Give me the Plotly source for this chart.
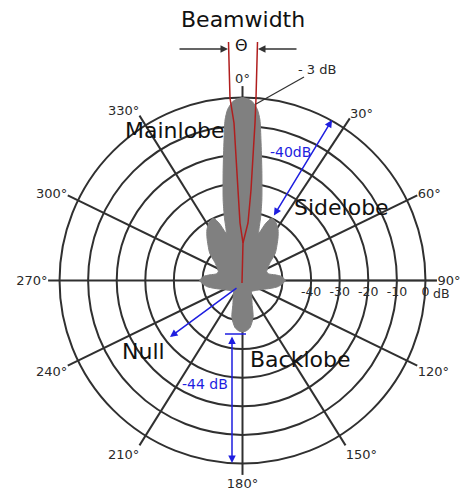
import plotly.graph_objects as go

W, H = 465, 499

# ---------------- data ----------------
# Radiation pattern outline: screen angle (deg, clockwise from top) and level (dB)
pattern_theta = [0, 3, 5, 6.2, 7.5, 10, 13.5, 16, 19, 22, 25, 29, 35, 40, 50, 57, 63, 70, 76, 80, 84,
                 90, 96, 100, 105, 111, 125, 140, 150, 158, 164, 171, 176,
                 180, 184, 189, 196, 202, 210, 220, 235, 249, 255, 260, 264,
                 270, 276, 280, 284, 290, 297, 303, 310, 320, 325, 331, 335, 338, 341, 344,
                 346.5, 350, 352.5, 353.8, 355, 357, 360]
pattern_db = [0, -1.2, -4, -7.5, -14.5, -25, -35, -41, -46.5, -42.5, -40, -40.3, -42.3, -44.7, -49, -52.5, -54, -55, -54.5, -52.5, -50.3,
              -49, -50.3, -51.5, -53.5, -55.6, -58, -59, -57.5, -55, -50.5, -47.3, -46.3,
              -46, -46.3, -47.3, -50.5, -55, -57.5, -59, -58, -55.6, -53.5, -51.5, -50.3,
              -49, -50.3, -52.5, -54.5, -55, -54, -52.5, -49, -44.7, -42.3, -40.3, -40, -42.5, -46.5, -41,
              -35, -25, -14.5, -7.5, -4, -1.2, 0]

# spokes as drawn in the picture (screen angles) and their labels
spoke_angles = [0, 33.5, 64, 90, 116, 148, 180, 212, 244, 270, 296, 328]
spoke_labels = ["0°", "30°", "60°", "90°", "120°", "150°", "180°", "210°", "240°", "270°", "300°", "330°"]
ring_db = [-50, -40, -30, -20, -10, 0]
ring_labels = ["", "-40", "-30", "-20", "-10", "0"]
db_unit = "dB"
db_range = [-64, 4]

sidelobe_level = "-40dB"
backlobe_level = "-44 dB"
halfpower_level = "- 3 dB"

# ---------------- helpers for annotation placement ----------------
def P(x, y):
    return x / W, 1 - y / H

def path(points):
    s = ""
    for i, (x, y) in enumerate(points):
        px, py = P(x, y)
        s += ("M" if i == 0 else " L") + f"{px:.5f},{py:.5f}"
    return s

GRID = "#303030"
BLUE = "#1e1ee0"
RED = "#b01e1e"
TXT = "#111111"
SMALL = "#2a2a2a"
FONT = "DejaVu Sans"

fig = go.Figure()

fig.add_trace(go.Scatterpolar(
    r=pattern_db, theta=pattern_theta, mode="lines", fill="toself",
    fillcolor="#808080", line=dict(color="#808080", width=1, shape="spline", smoothing=0.6),
    hoverinfo="skip", showlegend=False))

fig.update_layout(
    width=W, height=H, margin=dict(l=0, r=0, t=0, b=0),
    paper_bgcolor="white", showlegend=False,
    polar=dict(
        domain=dict(x=[48.1 / W, 436.9 / W], y=[1 - 474.9 / H, 1 - 86.1 / H]),
        bgcolor="rgba(0,0,0,0)",
        angularaxis=dict(rotation=90, direction="clockwise",
                         tickmode="array", tickvals=spoke_angles, ticktext=spoke_labels,
                         showline=False, ticks="", gridcolor=GRID, gridwidth=1.7,
                         tickfont=dict(family=FONT, size=13, color=SMALL),
                         layer="below traces"),
        radialaxis=dict(range=db_range, tickmode="array", tickvals=ring_db, ticktext=ring_labels,
                        angle=0, tickangle=0, showline=True, linecolor=GRID, linewidth=1.7,
                        gridcolor=GRID, gridwidth=1.7, ticks="",
                        tickfont=dict(family=FONT, size=12.5, color=SMALL),
                        layer="below traces"),
    ),
)

shapes = []
# beamwidth boundary lines (red)
shapes.append(dict(type="path", xref="paper", yref="paper", layer="above",
                   path=path([(242, 283), (243, 243), (240, 223), (238, 190), (234, 123), (230, 98), (228.5, 42)]),
                   line=dict(color=RED, width=1.5)))
shapes.append(dict(type="path", xref="paper", yref="paper", layer="above",
                   path=path([(243, 243), (248, 223), (251, 190), (255, 123), (256, 98), (257.5, 42)]),
                   line=dict(color=RED, width=1.5)))
# -3 dB leader
x0, y0 = P(304, 77); x1, y1 = P(256, 104)
shapes.append(dict(type="line", xref="paper", yref="paper", x0=x0, y0=y0, x1=x1, y1=y1,
                   line=dict(color=GRID, width=1.2), layer="above"))
# backlobe bar
x0, y0 = P(225, 334); x1, y1 = P(246, 334)
shapes.append(dict(type="line", xref="paper", yref="paper", x0=x0, y0=y0, x1=x1, y1=y1,
                   line=dict(color=BLUE, width=1.5), layer="above"))
fig.update_layout(shapes=shapes)

ann = []
def text(x, y, s, size, color=TXT):
    px, py = P(x, y)
    ann.append(dict(x=px, y=py, xref="paper", yref="paper", text=s, showarrow=False,
                    font=dict(family=FONT, size=size, color=color), xanchor="center", yanchor="middle"))

def arrow(head, tail, color, both=False, width=1.5):
    hx, hy = P(*head)
    d = dict(x=hx, y=hy, xref="paper", yref="paper", text="", showarrow=True,
             ax=tail[0] - head[0], ay=tail[1] - head[1],
             arrowhead=2, arrowsize=1, arrowwidth=width, arrowcolor=color, standoff=0, startstandoff=0)
    if both:
        d["arrowside"] = "end+start"
        d["startarrowhead"] = 2
        d["startarrowsize"] = 1
    ann.append(d)

text(243, 19, "Beamwidth", 22)
text(241, 46, "Θ", 16)
text(317, 69, halfpower_level, 13, SMALL)
text(175, 130, "Mainlobe", 22)
text(341, 207, "Sidelobe", 22)
text(143, 351, "Null", 22)
text(300, 359, "Backlobe", 22)
text(290, 152, sidelobe_level, 14, BLUE)
text(205, 384, backlobe_level, 14, BLUE)
text(441, 293, db_unit, 12.5, SMALL)

arrow((228, 49), (178, 49), "#333333")
arrow((258, 49), (298, 49), "#333333")
arrow((332, 120), (273, 217), BLUE, both=True)
arrow((170, 337), (238, 287), BLUE)
arrow((232, 463), (232, 335), BLUE, both=True)

fig.update_layout(annotations=ann)
fig.write_html("out.html", config={"displayModeBar": False},
               post_script="document.body.style.margin='0px';")
